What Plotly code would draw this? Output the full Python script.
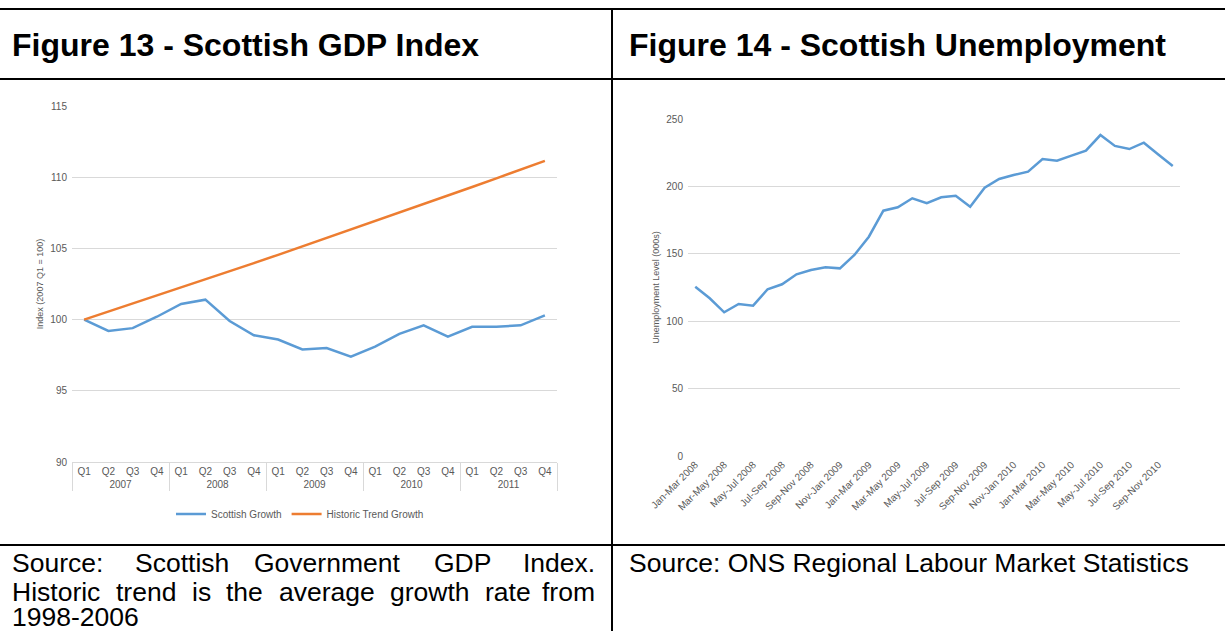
import plotly.graph_objects as go

# ---------------- data ----------------
years = ["2007", "2008", "2009", "2010", "2011"]
quarters = ["Q1", "Q2", "Q3", "Q4"]
scottish_growth = [100.0, 99.2, 99.4, 100.2, 101.1, 101.4, 99.9, 98.9, 98.6, 97.9,
                   98.0, 97.4, 98.1, 99.0, 99.6, 98.8, 99.5, 99.5, 99.6, 100.3]
historic_trend = [100.0, 100.56, 101.12, 101.68, 102.25, 102.82, 103.40, 103.97, 104.55, 105.14,
                  105.72, 106.31, 106.91, 107.50, 108.10, 108.71, 109.31, 109.92, 110.54, 111.15]

periods = ["Jan-Mar 2008", "Feb-Apr 2008", "Mar-May 2008", "Apr-Jun 2008", "May-Jul 2008",
           "Jun-Aug 2008", "Jul-Sep 2008", "Aug-Oct 2008", "Sep-Nov 2008", "Oct-Dec 2008",
           "Nov-Jan 2009", "Dec-Feb 2009", "Jan-Mar 2009", "Feb-Apr 2009", "Mar-May 2009",
           "Apr-Jun 2009", "May-Jul 2009", "Jun-Aug 2009", "Jul-Sep 2009", "Aug-Oct 2009",
           "Sep-Nov 2009", "Oct-Dec 2009", "Nov-Jan 2010", "Dec-Feb 2010", "Jan-Mar 2010",
           "Feb-Apr 2010", "Mar-May 2010", "Apr-Jun 2010", "May-Jul 2010", "Jun-Aug 2010",
           "Jul-Sep 2010", "Aug-Oct 2010", "Sep-Nov 2010", "Oct-Dec 2010"]
unemployment = [125.6, 117.0, 106.6, 112.8, 111.5, 123.7, 127.4, 134.8, 138.0, 140.0,
                139.2, 149.1, 162.7, 182.0, 184.5, 191.2, 187.5, 191.9, 193.1, 184.9,
                199.0, 205.5, 208.4, 210.9, 220.3, 219.1, 222.8, 226.5, 238.1, 230.0,
                227.7, 232.4, 223.7, 215.1]

gdp_y_ticks = [90, 95, 100, 105, 110, 115]
unemp_y_ticks = [0, 50, 100, 150, 200, 250]

# ---------------- layout helpers ----------------
W, H = 1225, 631
def px(x):
    return x / W
def py(y):
    return 1 - y / H

FONT = "Liberation Sans, Arial, sans-serif"
BLUE = "#5B9BD5"
ORANGE = "#ED7D31"
GRID = "#D9D9D9"
TICK = "#595959"

x_multi = [[y for y in years for q in quarters], [q for y in years for q in quarters]]
n_q = len(years) * len(quarters)

fig = go.Figure()
fig.add_trace(go.Scatter(x=x_multi, y=scottish_growth, mode="lines", name="Scottish Growth",
                         line=dict(color=BLUE, width=2.5), xaxis="x", yaxis="y"))
fig.add_trace(go.Scatter(x=x_multi, y=historic_trend, mode="lines", name="Historic Trend Growth",
                         line=dict(color=ORANGE, width=2.5), xaxis="x", yaxis="y"))
fig.add_trace(go.Scatter(x=periods, y=unemployment, mode="lines", name="Unemployment",
                         line=dict(color=BLUE, width=2.5), xaxis="x2", yaxis="y2",
                         showlegend=False))

fig.update_layout(
    width=W, height=H, autosize=False,
    margin=dict(l=0, r=0, t=0, b=0, pad=0),
    paper_bgcolor="white", plot_bgcolor="white",
    font=dict(family=FONT, color=TICK, size=10),
    xaxis=dict(domain=[px(72), px(557)], anchor="y", type="multicategory", automargin=False,
               range=[-0.5, n_q - 0.5],
               showgrid=False, showline=True, linecolor=GRID, linewidth=1,
               showdividers=True, dividercolor=GRID, dividerwidth=1,
               tickfont=dict(size=10, color=TICK), ticks=""),
    yaxis=dict(domain=[py(462), py(106)], anchor="x", range=[90, 115], automargin=False,
               tickvals=gdp_y_ticks, showgrid=True, gridcolor=GRID, gridwidth=1,
               zeroline=False, showline=False, ticks="", tickfont=dict(size=10, color=TICK),
               ticklabelstandoff=4,
               title=dict(text="Index (2007 Q1 = 100)", font=dict(size=9, color=TICK), standoff=5)),
    xaxis2=dict(domain=[px(688), px(1180)], anchor="y2", type="category", automargin=False,
                range=[-0.5, len(periods) - 0.5],
                tickvals=periods[::2], ticktext=periods[::2], tickangle=-45,
                showgrid=False, showline=False, ticks="", tickfont=dict(size=10, color=TICK)),
    yaxis2=dict(domain=[py(456), py(119)], anchor="x2", range=[0, 250], automargin=False,
                tickvals=unemp_y_ticks, showgrid=True, gridcolor=GRID, gridwidth=1,
                zeroline=False, showline=False, ticks="", tickfont=dict(size=10, color=TICK),
                ticklabelstandoff=4,
                title=dict(text="Unemployment Level (000s)", font=dict(size=9, color=TICK), standoff=5)),
    legend=dict(orientation="h", x=px(300), xanchor="center", y=py(514), yanchor="middle",
                font=dict(size=10, color=TICK), bgcolor="rgba(0,0,0,0)", itemwidth=30),
    showlegend=True,
)

# table borders
shapes = []
for yy in [9, 79, 545]:
    shapes.append(dict(type="line", xref="paper", yref="paper", x0=0, x1=1, y0=py(yy), y1=py(yy),
                       line=dict(color="black", width=2)))
shapes.append(dict(type="line", xref="paper", yref="paper", x0=px(612), x1=px(612), y0=py(9), y1=0,
                   line=dict(color="black", width=2)))
fig.update_layout(shapes=shapes)

ann = []
def txt(x, y, s, size, bold=False, xanchor="left"):
    ann.append(dict(xref="paper", yref="paper", x=px(x), y=py(y), text=(f"<b>{s}</b>" if bold else s),
                    showarrow=False, xanchor=xanchor, yanchor="middle",
                    font=dict(family=FONT, size=size, color="black")))

txt(10, 45, "Figure 13 - Scottish GDP Index", 32, bold=True)
txt(627, 45, "Figure 14 - Scottish Unemployment", 32, bold=True)

# justified source text (left cell)
line1 = [("Source:", 10), ("Scottish", 132.8), ("Government", 252), ("GDP", 432)]
for w, x in line1:
    txt(x, 563, w, 26.5)
txt(597, 563, "Index.", 26.5, xanchor="right")
line2 = [("Historic", 10), ("trend", 113.8), ("is", 189.7), ("the", 224.3), ("average", 276.6),
         ("growth", 387.8), ("rate", 482.8)]
for w, x in line2:
    txt(x, 592, w, 26.5)
txt(597, 592, "from", 26.5, xanchor="right")
txt(10, 617, "1998-2006", 26.5)

txt(627, 563, "Source: ONS Regional Labour Market Statistics", 26.5)

fig.update_layout(annotations=ann)

fig.write_html("out.html", config={"displayModeBar": False},
               post_script="document.body.style.margin='0px';")
